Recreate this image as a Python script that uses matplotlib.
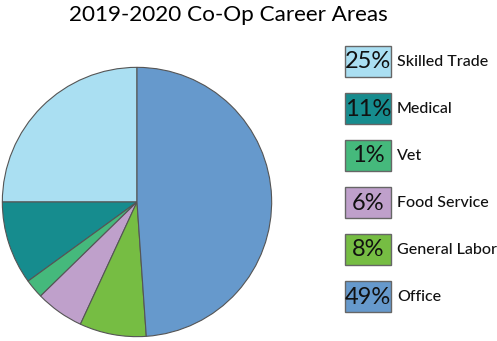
import matplotlib

matplotlib.use("Agg")
import matplotlib.pyplot as plt
from matplotlib.patches import Rectangle

# slice sizes as drawn (percent), and the labels printed in the legend boxes
areas = ["Skilled Trade", "Medical", "Vet", "Food Service", "General Labor", "Office"]
shares = [25, 10, 2.3, 5.8, 8, 48.9]
pct_labels = ["25%", "11%", "1%", "6%", "8%", "49%"]
colors = ["#aadff2", "#168c8e", "#45b97c", "#bfa0cb", "#76bd43", "#6699cc"]

W, H = 497, 341
fig = plt.figure(figsize=(W / 100, H / 100), dpi=100)
plt.rcParams["font.family"] = ["Lato", "DejaVu Sans"]

# pie
ax = fig.add_axes([1 / W, 3 / H, 272 / W, 272 / H])
ax.pie(shares, colors=colors, startangle=90, counterclock=True, radius=1,
       wedgeprops=dict(edgecolor="#555555", linewidth=0.8))
ax.set_xlim(-1.01, 1.01)
ax.set_ylim(-1.01, 1.01)
ax.set_aspect("equal")
ax.axis("off")

fig.text(228 / W, 1 - 15 / H, "2019-2020 Co-Op Career Areas", ha="center",
         va="center", fontsize=16.2)

# legend boxes
lg = fig.add_axes([0, 0, 1, 1])
lg.set_xlim(0, W)
lg.set_ylim(H, 0)
lg.axis("off")
for i, (name, pct, c) in enumerate(zip(areas, pct_labels, colors)):
    y0 = 46 + i * 47
    lg.add_patch(Rectangle((345, y0), 46, 31, facecolor=c, edgecolor="#666666",
                           linewidth=1))
    lg.text(368, y0 + 16, pct, ha="center", va="center", fontsize=17,
            fontweight="normal", color="#111111")
    lg.text(397, y0 + 16, name, ha="left", va="center", fontsize=11.5,
            fontweight="medium", color="#111111")

fig.savefig("out.png", dpi=100)
